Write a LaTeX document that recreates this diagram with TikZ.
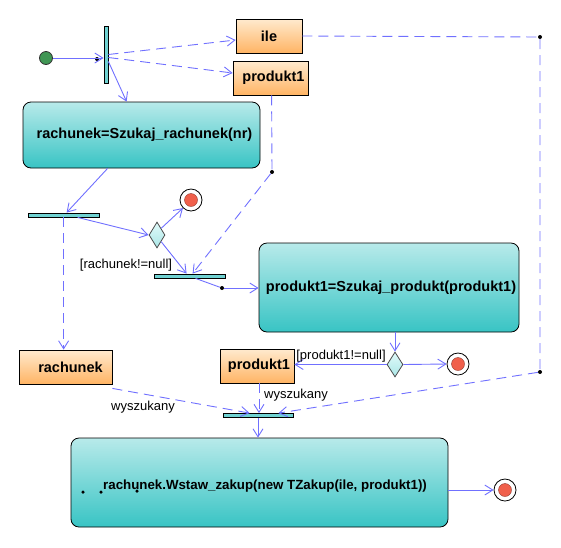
\documentclass[tikz,border=0pt]{standalone}
\usepackage{fontspec}
\setmainfont{Liberation Sans}
\usetikzlibrary{arrows.meta,shapes.geometric,calc}
\definecolor{actTop}{RGB}{184,234,234}
\definecolor{actBot}{RGB}{56,196,196}
\definecolor{objTop}{RGB}{255,234,206}
\definecolor{objBot}{RGB}{255,180,100}
\definecolor{barC}{RGB}{112,210,210}
\definecolor{lineC}{RGB}{112,112,255}
\definecolor{finC}{RGB}{240,96,76}
\definecolor{initC}{RGB}{64,150,84}
\definecolor{decTop}{RGB}{225,250,250}
\definecolor{decBot}{RGB}{170,230,230}
\tikzset{
  action/.style={draw=black, line width=0.8pt, rounded corners=8pt, top color=actTop, bottom color=actBot,
    inner sep=0pt, font=\bfseries\fontsize{14.5}{16}\selectfont},
  objbox/.style={draw=black, line width=0.8pt, top color=objTop, bottom color=objBot, inner sep=0pt,
    font=\bfseries\fontsize{14.5}{16}\selectfont},
  barbox/.style={draw=black, line width=0.8pt, fill=barC, inner sep=0pt},
  decision/.style={diamond, draw=black!70, line width=0.8pt, top color=decTop, bottom color=decBot, inner sep=0pt,
    minimum width=16pt, minimum height=26pt, aspect=0.6},
  flow/.style={draw=lineC, line width=0.9pt, -{Straight Barb[length=8pt,width=10pt]}},
  dflow/.style={flow, dash pattern=on 10pt off 6pt},
  dline/.style={draw=lineC, line width=0.9pt, dash pattern=on 10pt off 6pt},
  bdot/.style={circle, fill=black, inner sep=0pt, minimum size=4pt},
  lbl/.style={font=\fontsize{13}{15}\selectfont, inner sep=0pt},
}
\newcommand{\finalnode}[2]{%
  \node[circle, draw=black, line width=0.8pt, fill=white, minimum size=22pt, inner sep=0pt] (#1) at #2 {};
  \node[circle, draw=finC!60!black, fill=finC, minimum size=13pt, inner sep=0pt] at #2 {};
}
\begin{document}
\begin{tikzpicture}[x=1pt,y=-1pt]
\useasboundingbox (0,0) rectangle (561,547);

% initial and fork
\node[circle, draw=black!80, line width=0.8pt, fill=initC, minimum size=13pt, inner sep=0pt] (init) at (46,58) {};
\node[barbox, minimum width=4pt, minimum height=57pt] (fork) at (106,54.5) {};
\node[bdot] (dot1) at (97,59) {};

% objects top
\node[objbox, minimum width=66pt, minimum height=34pt] (ile) at (269,36) {ile};
\node[objbox, minimum width=75pt, minimum height=34pt] (prodA) at (270.5,78) {\hspace*{6pt}produkt1};

% action 1
\node[action, minimum width=237pt, minimum height=66pt] (act1) at (141.5,135) {\hspace*{6pt}rachunek=Szukaj\_rachunek(nr)};

% bar1, decision1, final1
\node[barbox, minimum width=71pt, minimum height=4pt] (bar1) at (63.5,215) {};
\node[decision] (dec1) at (157,235) {};
\finalnode{fin1}{(191,200)}

% bar2
\node[barbox, minimum width=71pt, minimum height=4pt] (bar2) at (189.5,276) {};
\node[bdot] (dot2) at (222,288) {};
\node[bdot] (dotA) at (272,172) {};

% action 2
\node[action, minimum width=260pt, minimum height=89pt] (act2) at (389,287.5) {\hspace*{4pt}produkt1=Szukaj\_produkt(produkt1)};

% objects bottom
\node[objbox, minimum width=93pt, minimum height=34pt] (rach) at (65.5,367) {\hspace*{10pt}rachunek};
\node[objbox, minimum width=74pt, minimum height=34pt] (prodB) at (257,366) {\hspace*{4pt}produkt1};

% decision2, final2
\node[decision, minimum height=25pt] (dec2) at (395,364.5) {};
\finalnode{fin2}{(458,364)}

% bar3
\node[barbox, minimum width=70pt, minimum height=4pt] (bar3) at (258,415.5) {};

% corners
\node[bdot] (c1) at (540,37) {};
\node[bdot] (c2) at (540,372) {};

% action 3
\node[action, minimum width=377pt, minimum height=89pt] (act3) at (259.5,482.5) {};
\node[font=\bfseries\fontsize{13.3}{15}\selectfont, inner sep=0pt, anchor=west] (t3) at (103,486) {rachunek.Wstaw\_zakup(new TZakup(ile, produkt1))};
\node[bdot, minimum size=3.5pt] (d3a) at (83,492) {};
\node[bdot, minimum size=3.5pt] (d3b) at (101,492) {};
\node[bdot, minimum size=3.5pt] (d3c) at (137,491) {};
\finalnode{fin3}{(505,490)}

% helper coordinates
\coordinate (b1s) at ($(bar1.south west)+(36,0)$);
\coordinate (pBs) at ($(prodB.south)+(2,0)$);

% edges
\draw[flow] (init.east) -- (init.east -| fork.west);
\draw[dflow] (fork.east) -- ([yshift=-4pt]ile.west);
\draw[dflow] ([yshift=-3pt]fork.east) -- ([yshift=5pt]prodA.west);
\draw[flow] ([yshift=-7pt]fork.east) -- ($(act1.north west)+(104,0)$);
\draw[flow] ($(act1.south west)+(85,0)$) -- ($(bar1.north west)+(39,0)$);
\draw[flow] ($(bar1.south west)+(50,0)$) -- (dec1.west);
\draw[flow] (dec1.north east) -- (fin1.south west);
\draw[flow] (dec1.south east) -- ($(bar2.north west)+(33,0)$);
\node[lbl] (lab1) at (126,265) {[rachunek!=null]};
\draw[dline] ($(prodA.south west)+(39,0)$) -- (dotA);
\draw[dflow] (dotA) -- ($(bar2.north west)+(39,0)$);
\draw[draw=lineC, line width=0.9pt] ($(bar2.south west)+(42,0)$) -- (dot2);
\draw[flow] (dot2) -- (dot2 -| act2.west);
\draw[dflow] (b1s) -- (b1s |- rach.north);
\draw[flow] (dec2.north |- act2.south) -- (dec2.north);
\draw[flow] (dec2.west) -- (prodB.east |- dec2.west);
\node[lbl] (lab2) at (341,356) {[produkt1!=null]};
\draw[flow] (dec2.east) -- (fin2.west);
\draw[dline] (ile.east) -- (c1) -- (c2);
\draw[dflow] (c2) -- ($(bar3.north east)+(-15,0)$);
\draw[dflow] ([yshift=-4pt]rach.south east) -- ($(bar3.north west)+(27,0)$);
\node[lbl] (lab3) at (143,407) {wyszukany};
\draw[dflow] (pBs) -- (pBs |- bar3.north);
\node[lbl] (lab4) at (296,395) {wyszukany};
\draw[flow] (bar3.south) -- (bar3.south |- act3.north);
\draw[flow] (act3.east |- fin3) -- (fin3.west);
\end{tikzpicture}
\end{document}
